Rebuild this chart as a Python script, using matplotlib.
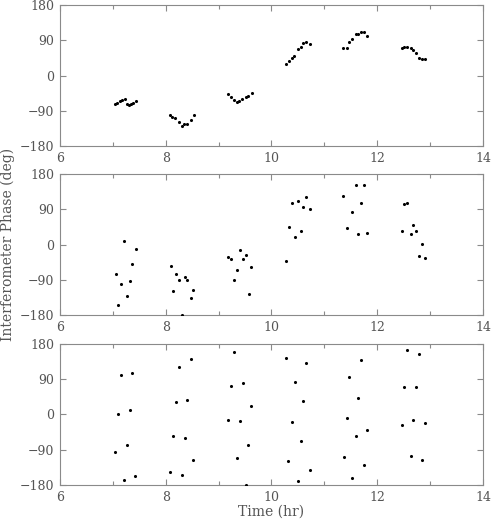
import matplotlib
matplotlib.use("Agg")
import matplotlib.pyplot as plt
from matplotlib.ticker import MultipleLocator
import numpy as np

# panel 1 - calibrated phase
t1 = [7.04, 7.08, 7.13, 7.18, 7.22, 7.27, 7.31, 7.35, 7.39, 7.43,
      8.08, 8.12, 8.17, 8.25, 8.31, 8.35, 8.40, 8.47, 8.53,
      9.17, 9.23, 9.29, 9.34, 9.39, 9.45, 9.51, 9.56, 9.63,
      10.27, 10.33, 10.38, 10.43, 10.50, 10.55, 10.60, 10.65, 10.72,
      11.36, 11.42, 11.47, 11.53, 11.59, 11.64, 11.70, 11.75, 11.81,
      12.46, 12.51, 12.57, 12.63, 12.68, 12.73, 12.79, 12.85, 12.91]
p1 = [-72, -70, -66, -62, -59, -72, -74, -73, -70, -66,
      -102, -105, -108, -119, -129, -125, -123, -114, -102,
      -48, -54, -63, -67, -65, -61, -55, -53, -44,
      30, 37, 44, 50, 67, 73, 82, 85, 80,
      69, 69, 86, 92, 106, 106, 111, 111, 102,
      69, 74, 74, 71, 66, 58, 46, 43, 41]

# panel 2
t2 = [7.05, 7.10, 7.16, 7.21, 7.27, 7.32, 7.37, 7.43,
      8.09, 8.14, 8.19, 8.25, 8.31, 8.36, 8.41, 8.47, 8.52,
      9.18, 9.23, 9.29, 9.35, 9.40, 9.46, 9.51, 9.57, 9.62,
      10.27, 10.33, 10.38, 10.44, 10.50, 10.55, 10.60, 10.66, 10.72,
      11.36, 11.42, 11.53, 11.59, 11.64, 11.70, 11.75, 11.81,
      12.46, 12.51, 12.57, 12.63, 12.68, 12.73, 12.79, 12.85, 12.90]
p2 = [-76, -154, -101, 9, -131, -93, -51, -11,
      -56, -118, -76, -91, -180, -84, -90, -136, -116,
      -31, -38, -91, -64, -15, -38, -28, -127, -58,
      -41, 45, 105, 20, 112, 34, 96, 122, 91,
      124, 41, 82, 153, 26, 106, 153, 29,
      35, 103, 105, 26, 50, 35, -30, 1, -34]

# panel 3
t3 = [7.04, 7.10, 7.15, 7.21, 7.26, 7.32, 7.37, 7.42,
      8.08, 8.14, 8.19, 8.25, 8.31, 8.36, 8.41, 8.47, 8.52,
      9.18, 9.23, 9.29, 9.34, 9.40, 9.46, 9.51, 9.56, 9.62,
      10.27, 10.32, 10.38, 10.44, 10.50, 10.55, 10.60, 10.66, 10.72,
      11.37, 11.42, 11.47, 11.53, 11.59, 11.64, 11.69, 11.75, 11.81,
      12.46, 12.51, 12.57, 12.63, 12.68, 12.73, 12.79, 12.85, 12.90]
p3 = [-97, 2, 100, -167, -79, 12, 107, -158,
      -147, -56, 33, 120, -154, -61, 38, 141, -115,
      -15, 73, 160, -111, -17, 80, -180, -79, 21,
      143, -119, -19, 83, -171, -68, 34, 131, -141,
      -108, -9, 96, -161, -56, 43, 139, -129, -40,
      -27, 69, 164, -106, -13, 69, 154, -117, -23]

plt.rcParams['font.family'] = 'DejaVu Serif'
plt.rcParams['font.size'] = 8
txt = '#555555'
frame = '#8a8a8a'

fig = plt.figure(figsize=(4.91, 5.23), dpi=100)
left, width, height = 0.1222, 0.8615, 0.2696
bottoms = [0.7208, 0.3977, 0.0727]

for b, (t, p) in zip(bottoms, [(t1, p1), (t2, p2), (t3, p3)]):
    ax = fig.add_axes([left, b, width, height])
    ax.scatter(t, p, s=5, c='black', linewidths=0, zorder=3)
    ax.set_xlim(6, 14)
    ax.set_ylim(-180, 180)
    ax.xaxis.set_major_locator(MultipleLocator(2))
    ax.xaxis.set_minor_locator(MultipleLocator(1))
    ax.yaxis.set_major_locator(MultipleLocator(90))
    ax.tick_params(which='both', direction='in', top=True, right=True,
                   colors=frame, labelcolor=txt, labelsize=9, width=0.8)
    ax.tick_params(which='major', length=4, pad=4)
    ax.tick_params(which='minor', length=3)
    for s in ax.spines.values():
        s.set_color(frame)
        s.set_linewidth(0.8)
    if b == bottoms[-1]:
        ax.set_xlabel('Time (hr)', color=txt, fontsize=10, labelpad=1)

fig.text(0.016, 0.532, 'Interferometer Phase (deg)', rotation=90,
         ha='center', va='center', color=txt, fontsize=10)

fig.savefig('out.png', dpi=100)
